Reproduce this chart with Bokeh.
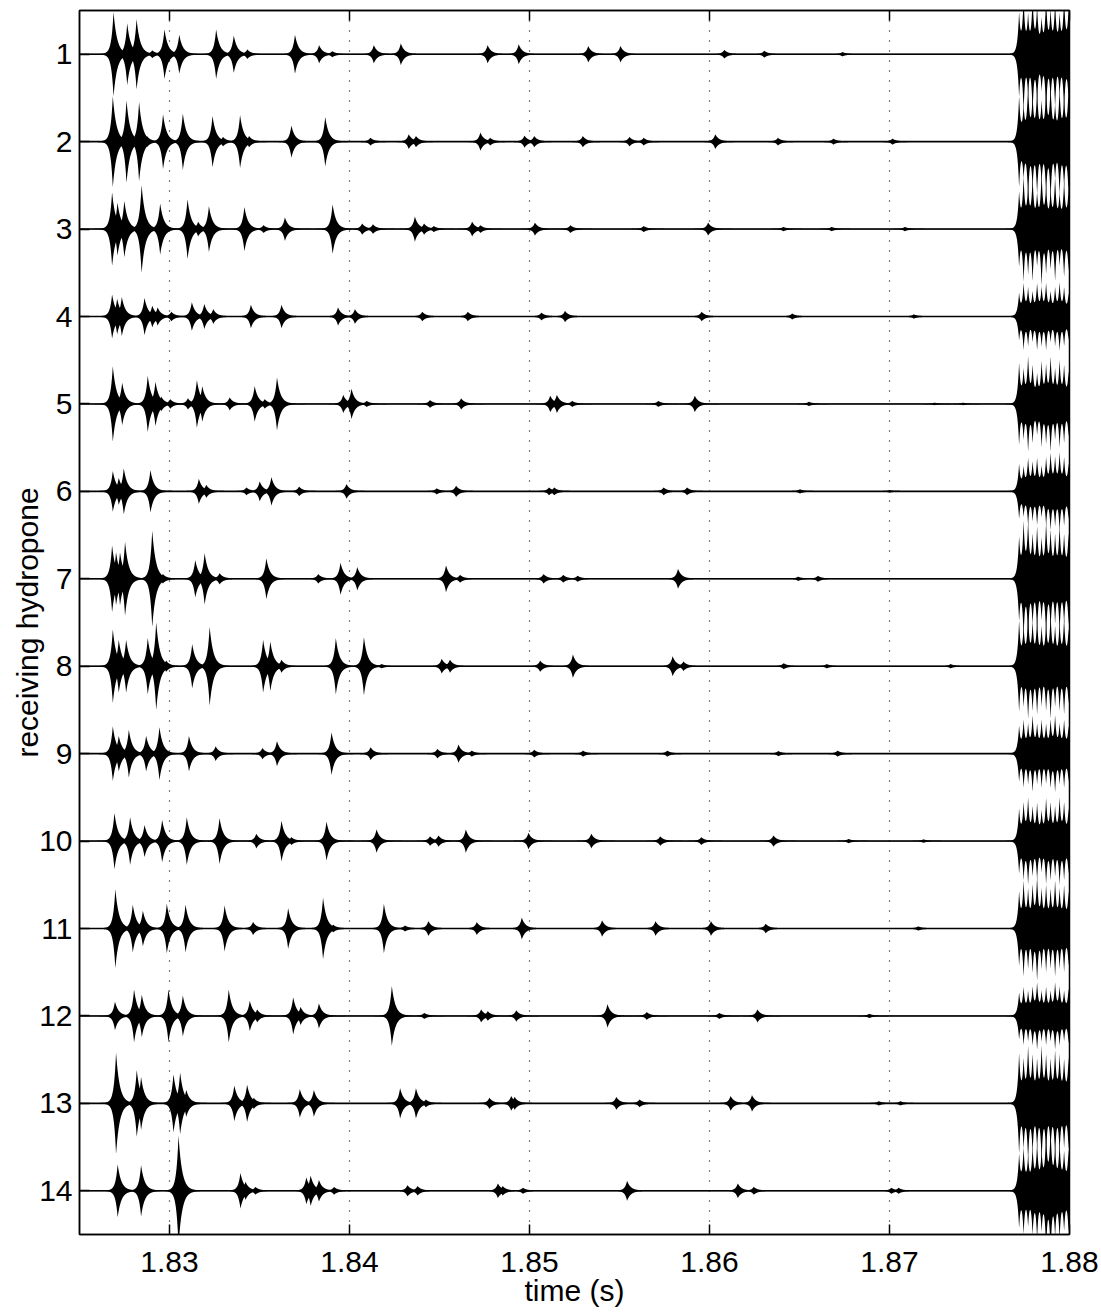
import numpy as np
from bokeh.plotting import figure
from bokeh.models import Range1d, LinearAxis, FixedTicker, PrintfTickFormatter
from bokeh.embed import file_html
from bokeh.resources import INLINE

# ---------------- data ----------------
hydrophones = list(range(1, 15))
x_ticks = [1.83, 1.84, 1.85, 1.86, 1.87, 1.88]
grid_ticks = [1.83, 1.84, 1.85, 1.86, 1.87]
t_start, t_end = 1.825, 1.88

# burst arrival times (s) and peak amplitudes (trace units) per hydrophone
t01 = [1.82689, 1.82765, 1.82817, 1.82904, 1.82972, 1.83054, 1.83259, 1.83357, 1.83432, 1.83697, 1.83831,
       1.83904, 1.84135, 1.84285, 1.84767, 1.84940, 1.85326, 1.85505, 1.86082, 1.86304, 1.86738]
a01 = [0.48, 0.35, 0.40, 0.04, 0.28, 0.22, 0.28, 0.21, 0.05, 0.22, 0.10,
       0.03, 0.10, 0.12, 0.10, 0.11, 0.09, 0.09, 0.045, 0.035, 0.02]
t02 = [1.82685, 1.82761, 1.82831, 1.82875, 1.82964, 1.83074, 1.83239, 1.83297, 1.83392, 1.83442, 1.83677,
       1.83865, 1.84116, 1.84329, 1.84369, 1.84727, 1.84781, 1.84972, 1.85026, 1.85296, 1.85555, 1.85634,
       1.86032, 1.86380, 1.86688, 1.87016]
a02 = [0.52, 0.47, 0.45, 0.06, 0.31, 0.32, 0.29, 0.05, 0.30, 0.06, 0.18,
       0.28, 0.04, 0.08, 0.06, 0.10, 0.04, 0.065, 0.06, 0.06, 0.05, 0.04,
       0.08, 0.04, 0.03, 0.03]
t03 = [1.82681, 1.82711, 1.82749, 1.82845, 1.82948, 1.83100, 1.83159, 1.83219, 1.83416, 1.83522, 1.83641,
       1.83906, 1.84070, 1.84130, 1.84363, 1.84414, 1.84468, 1.84681, 1.84727, 1.85030, 1.85227, 1.85634,
       1.85992, 1.86410, 1.86678, 1.87085]
a03 = [0.42, 0.30, 0.32, 0.50, 0.29, 0.34, 0.08, 0.26, 0.25, 0.04, 0.13,
       0.28, 0.06, 0.05, 0.14, 0.06, 0.03, 0.08, 0.04, 0.07, 0.04, 0.03,
       0.07, 0.02, 0.02, 0.02]
t04 = [1.82681, 1.82709, 1.82735, 1.82861, 1.82904, 1.82934, 1.83010, 1.83124, 1.83193, 1.83243, 1.83452,
       1.83622, 1.83936, 1.84030, 1.84404, 1.84657, 1.85066, 1.85197, 1.85956, 1.86459, 1.87135]
a04 = [0.25, 0.20, 0.22, 0.21, 0.12, 0.10, 0.05, 0.16, 0.14, 0.08, 0.13,
       0.13, 0.10, 0.08, 0.05, 0.05, 0.04, 0.06, 0.05, 0.03, 0.02]
t05 = [1.82685, 1.82737, 1.82879, 1.82922, 1.82954, 1.83004, 1.83102, 1.83152, 1.83182, 1.83334, 1.83473,
       1.83529, 1.83597, 1.83965, 1.84011, 1.84095, 1.84447, 1.84620, 1.85115, 1.85152, 1.85237, 1.85715,
       1.85918, 1.86552, 1.87249, 1.87408]
a05 = [0.43, 0.24, 0.32, 0.25, 0.08, 0.05, 0.06, 0.27, 0.20, 0.07, 0.20,
       0.05, 0.30, 0.10, 0.17, 0.03, 0.04, 0.06, 0.09, 0.10, 0.03, 0.03,
       0.09, 0.02, 0.01, 0.01]
t06 = [1.82685, 1.82718, 1.82746, 1.82894, 1.83163, 1.83204, 1.83427, 1.83501, 1.83566, 1.83720, 1.83983,
       1.84484, 1.84592, 1.85108, 1.85137, 1.85745, 1.85875, 1.86502, 1.87000]
a06 = [0.23, 0.15, 0.26, 0.24, 0.14, 0.07, 0.04, 0.11, 0.16, 0.05, 0.08,
       0.03, 0.06, 0.04, 0.04, 0.04, 0.04, 0.02, 0.01]
t07 = [1.82681, 1.82703, 1.82725, 1.82753, 1.82904, 1.82963, 1.83143, 1.83195, 1.83278, 1.83538, 1.83826,
       1.83950, 1.84043, 1.84536, 1.84614, 1.85078, 1.85187, 1.85267, 1.85825, 1.86492, 1.86602]
a07 = [0.38, 0.30, 0.30, 0.42, 0.55, 0.05, 0.21, 0.29, 0.06, 0.23, 0.05,
       0.18, 0.13, 0.15, 0.04, 0.05, 0.04, 0.03, 0.11, 0.02, 0.03]
t08 = [1.82685, 1.82718, 1.82759, 1.82879, 1.82926, 1.82981, 1.83126, 1.83223, 1.83520, 1.83560, 1.83622,
       1.83924, 1.84080, 1.84178, 1.84512, 1.84558, 1.85059, 1.85241, 1.85795, 1.85855, 1.86412, 1.86651,
       1.87339]
a08 = [0.42, 0.30, 0.30, 0.32, 0.50, 0.06, 0.25, 0.45, 0.30, 0.28, 0.07,
       0.32, 0.33, 0.02, 0.08, 0.07, 0.06, 0.13, 0.11, 0.05, 0.03, 0.02,
       0.02]
t09 = [1.82685, 1.82718, 1.82774, 1.82870, 1.82944, 1.83108, 1.83256, 1.83516, 1.83597, 1.83900, 1.84117,
       1.84488, 1.84605, 1.84679, 1.85026, 1.85297, 1.85765, 1.86382, 1.86711]
a09 = [0.31, 0.20, 0.27, 0.20, 0.30, 0.20, 0.08, 0.06, 0.14, 0.24, 0.07,
       0.05, 0.10, 0.03, 0.04, 0.03, 0.03, 0.025, 0.03]
t10 = [1.82694, 1.82781, 1.82861, 1.82959, 1.83096, 1.83278, 1.83482, 1.83622, 1.83677, 1.83872, 1.84150,
       1.84447, 1.84494, 1.84646, 1.84994, 1.85343, 1.85726, 1.85954, 1.86355, 1.86772, 1.87188]
a10 = [0.32, 0.27, 0.18, 0.24, 0.27, 0.26, 0.08, 0.23, 0.04, 0.22, 0.13,
       0.05, 0.06, 0.13, 0.09, 0.08, 0.05, 0.04, 0.06, 0.02, 0.015]
t11 = [1.82699, 1.82796, 1.82852, 1.82985, 1.83089, 1.83306, 1.83464, 1.83659, 1.83853, 1.83909, 1.84191,
       1.84308, 1.84438, 1.84707, 1.84957, 1.85403, 1.85700, 1.86008, 1.86312, 1.87159]
a11 = [0.45, 0.27, 0.20, 0.28, 0.27, 0.26, 0.07, 0.23, 0.35, 0.04, 0.28,
       0.03, 0.08, 0.07, 0.12, 0.09, 0.08, 0.08, 0.05, 0.02]
t12 = [1.82697, 1.82803, 1.82846, 1.82994, 1.83074, 1.83329, 1.83446, 1.83487, 1.83687, 1.83728, 1.83830,
       1.84235, 1.84415, 1.84731, 1.84768, 1.84926, 1.85433, 1.85651, 1.86054, 1.86266, 1.86887]
a12 = [0.16, 0.30, 0.24, 0.30, 0.23, 0.30, 0.17, 0.07, 0.21, 0.10, 0.14,
       0.34, 0.03, 0.07, 0.05, 0.06, 0.13, 0.04, 0.03, 0.07, 0.02]
t13 = [1.82703, 1.82818, 1.82842, 1.83022, 1.83059, 1.83093, 1.83360, 1.83431, 1.83468, 1.83724, 1.83802,
       1.84281, 1.84369, 1.84424, 1.84777, 1.84898, 1.84917, 1.85482, 1.85611, 1.86117, 1.86236, 1.86940,
       1.87060]
a13 = [0.58, 0.38, 0.30, 0.33, 0.35, 0.15, 0.20, 0.21, 0.06, 0.16, 0.15,
       0.17, 0.17, 0.04, 0.06, 0.08, 0.07, 0.07, 0.04, 0.08, 0.09, 0.02,
       0.02]
t14 = [1.82712, 1.82842, 1.83050, 1.83394, 1.83422, 1.83477, 1.83760, 1.83784, 1.83830, 1.83914, 1.84322,
       1.84378, 1.84824, 1.84851, 1.84963, 1.85542, 1.86157, 1.86246, 1.87010, 1.87050]
a14 = [0.30, 0.29, 0.63, 0.20, 0.10, 0.04, 0.15, 0.17, 0.12, 0.04, 0.06,
       0.05, 0.08, 0.05, 0.03, 0.11, 0.08, 0.04, 0.03, 0.03]

# strong arrival at the end of the record: amplitude at these times per hydrophone
noise_times = [1.87720, 1.87745, 1.87770, 1.87795, 1.87820, 1.87845,
               1.87870, 1.87895, 1.87920, 1.87945, 1.87970, 1.87995]
n01 = [0.45, 0.60, 0.40, 0.60, 0.50, 0.35, 0.60, 0.45, 0.55, 0.40, 0.60, 0.50]
n02 = [0.50, 0.35, 0.60, 0.45, 0.55, 0.40, 0.55, 0.60, 0.35, 0.55, 0.45, 0.60]
n03 = [0.40, 0.55, 0.45, 0.55, 0.35, 0.60, 0.45, 0.40, 0.55, 0.35, 0.50, 0.45]
n04 = [0.25, 0.35, 0.30, 0.25, 0.35, 0.30, 0.35, 0.25, 0.30, 0.35, 0.30, 0.25]
n05 = [0.45, 0.35, 0.50, 0.40, 0.30, 0.45, 0.40, 0.50, 0.35, 0.45, 0.40, 0.35]
n06 = [0.30, 0.25, 0.35, 0.30, 0.35, 0.25, 0.35, 0.40, 0.35, 0.40, 0.35, 0.30]
n07 = [0.45, 0.60, 0.60, 0.45, 0.55, 0.40, 0.60, 0.50, 0.45, 0.55, 0.45, 0.50]
n08 = [0.50, 0.40, 0.55, 0.45, 0.50, 0.40, 0.45, 0.55, 0.40, 0.45, 0.50, 0.40]
n09 = [0.30, 0.35, 0.30, 0.40, 0.30, 0.35, 0.30, 0.35, 0.40, 0.30, 0.35, 0.30]
n10 = [0.35, 0.40, 0.45, 0.35, 0.40, 0.30, 0.45, 0.40, 0.35, 0.45, 0.40, 0.35]
n11 = [0.40, 0.50, 0.40, 0.45, 0.55, 0.40, 0.45, 0.40, 0.50, 0.40, 0.45, 0.40]
n12 = [0.25, 0.30, 0.25, 0.30, 0.35, 0.25, 0.30, 0.25, 0.35, 0.30, 0.25, 0.30]
n13 = [0.55, 0.45, 0.60, 0.50, 0.45, 0.60, 0.50, 0.45, 0.55, 0.50, 0.45, 0.50]
n14 = [0.40, 0.45, 0.35, 0.45, 0.50, 0.40, 0.60, 0.65, 0.45, 0.50, 0.40, 0.45]

burst_times = [t01, t02, t03, t04, t05, t06, t07, t08, t09, t10, t11, t12, t13, t14]
burst_amps = [a01, a02, a03, a04, a05, a06, a07, a08, a09, a10, a11, a12, a13, a14]
noise_amps = [n01, n02, n03, n04, n05, n06, n07, n08, n09, n10, n11, n12, n13, n14]

# ---------------- rendering ----------------
FONT = "Liberation Sans"
W_RISE, W_DECAY, W_NOISE = 0.00012, 0.00020, 0.00009
FLOOR = 0.005

p = figure(width=1101, height=1313,
           x_range=Range1d(t_start, t_end), y_range=Range1d(14.5, 0.5),
           output_backend="svg", toolbar_location=None,
           min_border_left=79, min_border_right=32, min_border_top=10, min_border_bottom=79,
           background_fill_color="white", border_fill_color="white")

tt = np.linspace(t_start, t_end, 6000)
for base, bt, ba, na in zip(hydrophones, burst_times, burst_amps, noise_amps):
    env = np.zeros_like(tt)
    for t0, a in zip(bt, ba):
        dt = tt - t0
        shape = np.where(dt < 0, np.exp(np.minimum(dt, 0) / W_RISE), np.exp(-np.maximum(dt, 0) / W_DECAY))
        env = np.maximum(env, a * shape)
    nenv = np.zeros_like(tt)
    for t0, a in zip(noise_times, na):
        nenv += a * np.exp(-np.abs(tt - t0) / W_NOISE)
    env = np.maximum(env, nenv) + FLOOR
    p.varea(x=tt, y1=base - env, y2=base + env, fill_color="black", fill_alpha=1.0)

p.segment(x0=[t_start] * len(hydrophones), x1=[t_end] * len(hydrophones),
          y0=hydrophones, y1=hydrophones, line_color="black", line_width=1.6)

# axes
p.xaxis.ticker = FixedTicker(ticks=x_ticks)
p.xaxis.formatter = PrintfTickFormatter(format="%.2f")
p.yaxis.ticker = FixedTicker(ticks=hydrophones)
p.yaxis.formatter = PrintfTickFormatter(format="%d")
p.xaxis.axis_label = "time (s)"
p.yaxis.axis_label = "receiving hydropone"
for ax in (p.xaxis[0], p.yaxis[0]):
    ax.major_label_text_font = FONT
    ax.major_label_text_font_size = "30px"
    ax.major_label_text_color = "black"
    ax.axis_label_text_font = FONT
    ax.axis_label_text_font_size = "30px"
    ax.axis_label_text_font_style = "normal"
    ax.axis_label_text_color = "black"
    ax.major_tick_in = 10
    ax.major_tick_out = 0
    ax.minor_tick_line_color = None
    ax.axis_line_width = 1.5
    ax.major_tick_line_width = 1.5
    ax.axis_line_color = "black"
    ax.major_tick_line_color = "black"
p.xaxis.major_label_standoff = 17
p.xaxis.axis_label_standoff = -1
p.yaxis.major_label_standoff = 7
p.yaxis.axis_label_standoff = -8

top = LinearAxis(ticker=FixedTicker(ticks=x_ticks), major_label_text_font_size="1px",
                 major_label_text_color=None,
                 major_tick_in=10, major_tick_out=0, minor_tick_line_color=None,
                 axis_line_color="black", axis_line_width=1.5, major_tick_line_width=1.5,
                 major_label_standoff=0, axis_label_standoff=0)
p.add_layout(top, "above")

p.xgrid.ticker = FixedTicker(ticks=grid_ticks)
p.xgrid.grid_line_color = "black"
p.xgrid.grid_line_dash = "1 9"
p.xgrid.grid_line_width = 1.2
p.ygrid.visible = False
p.outline_line_color = "black"
p.outline_line_width = 1.5

open("out.html", "w").write(file_html(p, INLINE))
